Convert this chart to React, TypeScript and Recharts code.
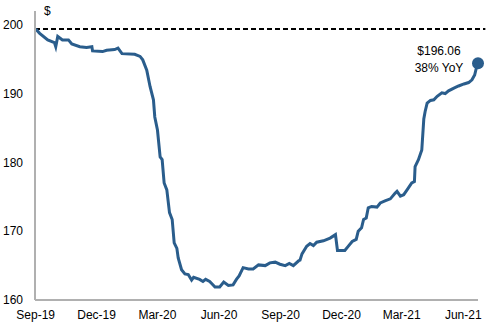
import React from "react";
import { LineChart, Line, XAxis, YAxis, ReferenceLine, ReferenceDot } from "recharts";

const days = [0, 6, 18, 28, 30, 33, 40, 49, 54, 66, 76, 84, 85, 100, 106, 118, 123, 129, 148, 156, 160, 166, 171, 176, 178, 182, 186, 189, 192, 196, 200, 204, 207, 211, 213, 218, 223, 228, 233, 236, 245, 250, 254, 260, 263, 268, 275, 281, 288, 295, 300, 304, 310, 318, 325, 333, 343, 350, 358, 365, 373, 379, 385, 393, 395, 398, 405, 410, 415, 420, 430, 440, 448, 451, 462, 467, 473, 479, 482, 487, 490, 494, 497, 502, 510, 515, 522, 530, 537, 540, 545, 550, 555, 562, 566, 567, 572, 577, 580, 582, 585, 590, 595, 600, 607, 612, 617, 625, 632, 640, 647, 652, 656, 659, 661];
const prices = [199.4, 198.75, 197.8, 197.4, 196.8, 198.3, 197.8, 197.8, 197.2, 196.8, 196.7, 196.8, 196.2, 196.1, 196.3, 196.4, 196.6, 195.8, 195.7, 195.4, 194.9, 193.4, 191.0, 189.1, 186.6, 184.7, 180.8, 180.4, 177.0, 176.0, 172.7, 171.7, 168.3, 167.5, 166.1, 164.4, 163.8, 163.7, 162.9, 163.3, 163.0, 162.7, 163.0, 162.7, 162.4, 161.9, 161.9, 162.6, 162.1, 162.2, 163.0, 163.5, 164.7, 164.5, 164.5, 165.1, 165.0, 165.4, 165.5, 165.2, 165.0, 165.3, 165.0, 165.7, 165.8, 166.7, 167.8, 168.2, 167.9, 168.4, 168.6, 169.0, 169.5, 167.2, 167.2, 167.8, 168.5, 168.8, 170.0, 170.5, 171.7, 171.9, 173.4, 173.6, 173.5, 174.1, 174.4, 174.7, 175.5, 175.8, 175.1, 175.3, 176.0, 177.0, 177.2, 179.4, 180.4, 181.8, 186.3, 187.4, 188.6, 189.0, 189.1, 189.6, 190.1, 190.0, 190.4, 190.8, 191.1, 191.4, 191.6, 192.0, 192.7, 193.9, 194.4];

const tickDays = [0, 91, 182, 274, 366, 457, 547, 639];
const tickLabels = ["Sep-19", "Dec-19", "Mar-20", "Jun-20", "Sep-20", "Dec-20", "Mar-21", "Jun-21"];
const yTicks = [160, 170, 180, 190, 200];
const referenceLevel = 199.4;
const lastLabel = ["$196.06", "38% YoY"];

const data = days.map((d, i) => ({ d, v: prices[i] }));
const BLUE = "#2a5d8c";
const FONT = "'Liberation Sans', Arial, sans-serif";

export default function App() {
  const last = data[data.length - 1];
  return (
    <div style={{ position: "absolute", left: 0, top: 0, width: 492, height: 328, background: "#fff", fontFamily: FONT }}>
      <LineChart width={492} height={328} data={data} margin={{ top: 11, right: 14, bottom: 8, left: 0 }}>
        <XAxis
          type="number"
          dataKey="d"
          domain={[-1, 661]}
          ticks={tickDays}
          tickFormatter={(v: number) => tickLabels[tickDays.indexOf(v)] ?? ""}
          tickLine={false}
          axisLine={{ stroke: "#b0b0b0", strokeWidth: 2 }}
          tick={{ fill: "#000", fontSize: 12, fontFamily: FONT }}
          tickMargin={4}
          height={20}
          allowDataOverflow
        />
        <YAxis
          type="number"
          domain={[160, 202]}
          ticks={yTicks}
          tickLine={false}
          axisLine={{ stroke: "#b0b0b0", strokeWidth: 2 }}
          tick={{ fill: "#000", fontSize: 12, fontFamily: FONT }}
          tickMargin={6}
          width={35}
          allowDataOverflow
        />
        <ReferenceLine
          segment={[{ x: -1, y: referenceLevel }, { x: 672, y: referenceLevel }]}
          stroke="#000"
          strokeWidth={2}
          strokeDasharray="5 3"
          ifOverflow="visible"
        />
        <Line type="linear" dataKey="v" stroke={BLUE} strokeWidth={3} dot={false} isAnimationActive={false} />
        <ReferenceDot x={last.d} y={last.v} r={6} fill={BLUE} stroke="none" ifOverflow="visible" />
      </LineChart>
      <div style={{ position: "absolute", left: 44, top: 4, fontSize: 12, color: "#000" }}>$</div>
      <div style={{ position: "absolute", left: 399, top: 43, width: 80, textAlign: "center", fontSize: 12, lineHeight: "17px", color: "#000" }}>
        <div>{lastLabel[0]}</div>
        <div>{lastLabel[1]}</div>
      </div>
    </div>
  );
}
